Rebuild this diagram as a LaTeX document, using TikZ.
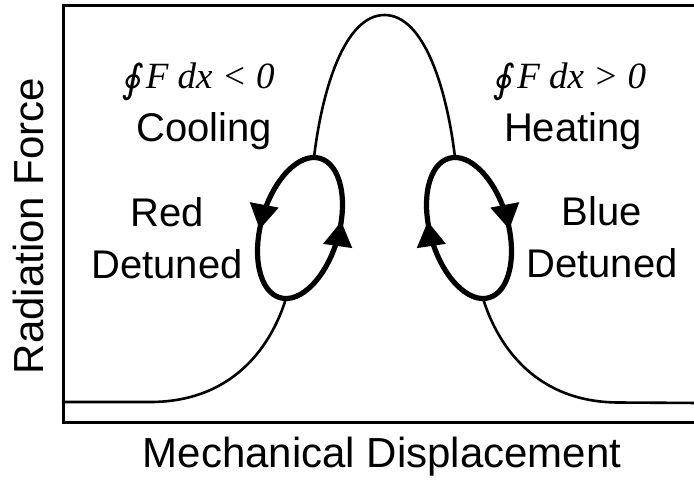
\documentclass[tikz,border=0pt]{standalone}
\usepackage{fontspec}
\setmainfont{Liberation Sans}
\newfontfamily\tms{Liberation Serif}
\newfontfamily\djs[FakeSlant=0.15]{DejaVu Sans}
\usetikzlibrary{arrows.meta,decorations.markings}
\tikzset{
  thincurve/.style={line width=2.6pt, line join=round, line cap=round},
  loopline/.style={line width=5.2pt,
    postaction={decorate},
    decoration={markings,
      mark=at position 0.05 with {\arrow{Triangle[length=25pt,width=28pt]}},
      mark=at position 0.535 with {\arrow{Triangle[length=25pt,width=28pt]}}}},
  frame/.style={line width=3pt},
  lbl/.style={font=\fontsize{40}{52}\selectfont, align=center, inner sep=0pt},
  formula/.style={font=\fontsize{37}{40}\selectfont\tms\itshape, inner sep=0pt},
  axislbl/.style={font=\fontsize{42}{50}\selectfont, inner sep=0pt}
}
\newcommand{\contint}{\raisebox{-4pt}{\upshape\fontsize{39}{40}\selectfont\djs ∮}\kern4pt}
\begin{document}
\begin{tikzpicture}[x=1pt,y=-1pt]
\useasboundingbox (0,0) rectangle (694,483);
% frame
\draw[frame] (63.5,5.5) rectangle (705,422);
% curve
\coordinate (lb) at (286,298.5);
\coordinate (lt) at (314,157.5);
\coordinate (rt) at (455,157.5);
\coordinate (rb) at (483,298.5);
\coordinate (peak) at (384.5,15);
\draw[thincurve] (63,402) -- (150,402) .. controls (230,402) and (270,350) .. (lb);
\draw[thincurve] (lt) .. controls (322,90) and (344.5,15) .. (peak)
  .. controls (424.5,15) and (447,90) .. (rt);
\draw[thincurve] (rb) .. controls (499,350) and (539,402.5) .. (619,402.5) -- (700,403);
% loops
\begin{scope}[shift={(300,228)}, rotate=-16]
  \draw[loopline] (0,0) ellipse (39pt and 72.5pt);
\end{scope}
\begin{scope}[shift={(469,228)}, xscale=-1, rotate=-16]
  \draw[loopline] (0,0) ellipse (39pt and 72.5pt);
\end{scope}
% labels
\node[formula, anchor=base] (fl) at (198,88) {\contint F dx < 0};
\node[formula, anchor=base] (fr) at (569.5,88) {\contint F dx > 0};
\node[lbl, anchor=base] (cool) at (204,141) {Cooling};
\node[lbl, anchor=base] (heat) at (573,141) {Heating};
\node[lbl, anchor=base] (red) at (167,278) {Red\\Detuned};
\node[lbl, anchor=base] (blue) at (602,277) {Blue\\Detuned};
\node[axislbl, anchor=base, rotate=90] (ylab) at (43,226) {Radiation Force};
\node[axislbl, anchor=base] (xlab) at (382,467) {Mechanical Displacement};
\end{tikzpicture}
\end{document}
